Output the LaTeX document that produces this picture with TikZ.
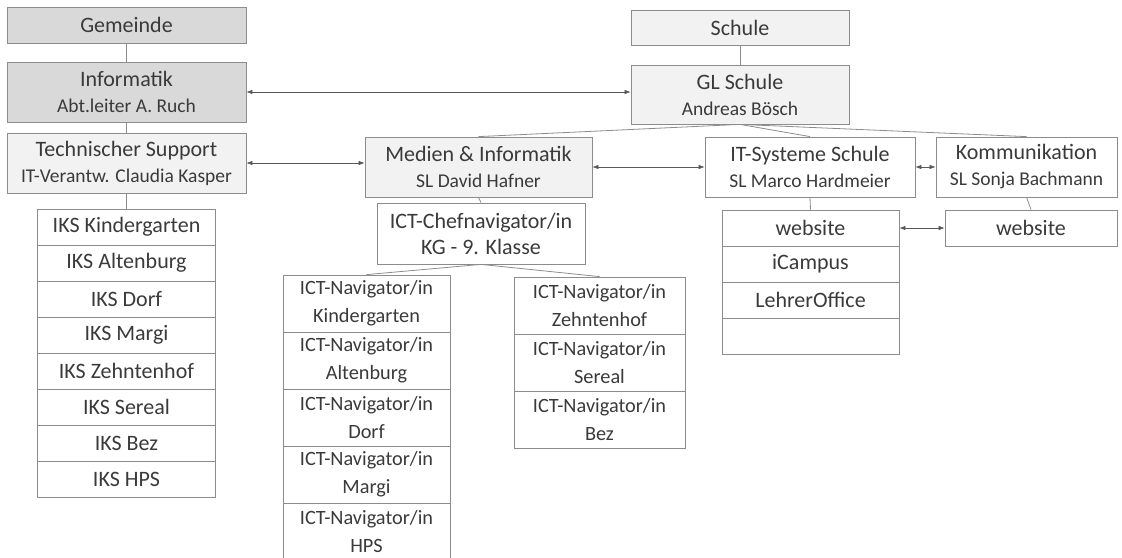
\documentclass[tikz,border=0pt]{standalone}
\usepackage{fontspec}
\setmainfont{Carlito}
\usetikzlibrary{arrows.meta}
\definecolor{boxline}{HTML}{8C8C8C}
\definecolor{boxtext}{HTML}{3A3A3A}
\definecolor{darkfill}{HTML}{D9D9D9}
\definecolor{lightfill}{HTML}{F2F2F2}
\newcommand{\subfont}{\fontsize{19.5}{23}\selectfont}
\begin{document}
\begin{tikzpicture}[x=1pt,y=-1pt,
    box/.style={draw=boxline,line width=0.8pt,text=boxtext,inner sep=0pt,align=center,
      font=\fontsize{22}{26}\selectfont},
    dim/.style 2 args={minimum width=#1pt,minimum height=#2pt},
    dark/.style={box,fill=darkfill},
    light/.style={box,fill=lightfill},
    link/.style={draw=boxline,line width=0.8pt},
    both/.style={draw=black!65,line width=0.6pt,{Latex[length=6pt,width=4.5pt]}-{Latex[length=6pt,width=4.5pt]}}]
  \useasboundingbox (0,0) rectangle (1122,557);
  \node[dark,dim={239}{36}](Gem) at(126.5,25){Gemeinde};
  \node[dark,dim={239}{60}](Inf) at(126.5,92){Informatik\\\subfont Abt.leiter A. Ruch};
  \node[light,dim={239}{60}](Sup) at(126.5,163){Technischer Support\\\subfont IT-Verantw. Claudia Kasper};
  \foreach \t [count=\i] in {Kindergarten,Altenburg,Dorf,Margi,Zehntenhof,Sereal,Bez,HPS}{
    \node[box,dim={178}{36}](K\i) at(126.5,191+36*\i){IKS \t};
  }
  \node[light,dim={218}{35}](Sch) at(740,27.5){Schule};
  \node[light,dim={218}{59}](GL) at(740,94.5){GL Schule\\\subfont Andreas Bösch};
  \node[light,dim={227}{60}](Med) at(478.5,167){Medien \& Informatik\\\subfont SL David Hafner};
  \node[box,dim={210}{60}](ITS) at(810,167){IT-Systeme Schule\\\subfont SL Marco Hardmeier};
  \node[box,dim={181}{60}](Kom) at(1026.5,167){Kommunikation\\\subfont SL Sonja Bachmann};
  \node[box,dim={208}{61}](Chef) at(481,233.5){ICT-Chefnavigator/in\\KG - 9. Klasse};
  \foreach \t [count=\i] in {Kindergarten,Altenburg,Dorf,Margi,HPS}{
    \node[box,dim={167}{57},font=\fontsize{20.3}{28}\selectfont](L\i) at(366.5,246.5+57*\i){ICT-Navigator/in\\\t};
  }
  \foreach \t [count=\i] in {Zehntenhof,Sereal,Bez}{
    \node[box,dim={171}{57},font=\fontsize{20.3}{28}\selectfont](R\i) at(599.5,248.5+57*\i){ICT-Navigator/in\\\t};
  }
  \foreach \t [count=\i] in {website,iCampus,LehrerOffice}{
    \node[box,dim={177}{36}](W\i) at(810.5,192+36*\i){\t};
  }
  \node[box,dim={177}{36}](W4) at(810.5,336){};
  \node[box,dim={172}{36}](Web) at(1031,228){website};
  \foreach \x/\y in {Gem/Inf, Inf/Sup, Sup/K1, Sch/GL, GL/Med, GL/ITS, GL/Kom, Med/Chef,
      Chef/L1, Chef/R1, ITS/W1, Kom/Web}{
    \draw[link](\x.south)--(\y.north);
  }
  \foreach \x/\y in {Inf/GL, Sup/Med, Med/ITS, ITS/Kom, W1/Web}{
    \draw[both](\x.east)--(\x.east -| \y.west);
  }
\end{tikzpicture}
\end{document}
